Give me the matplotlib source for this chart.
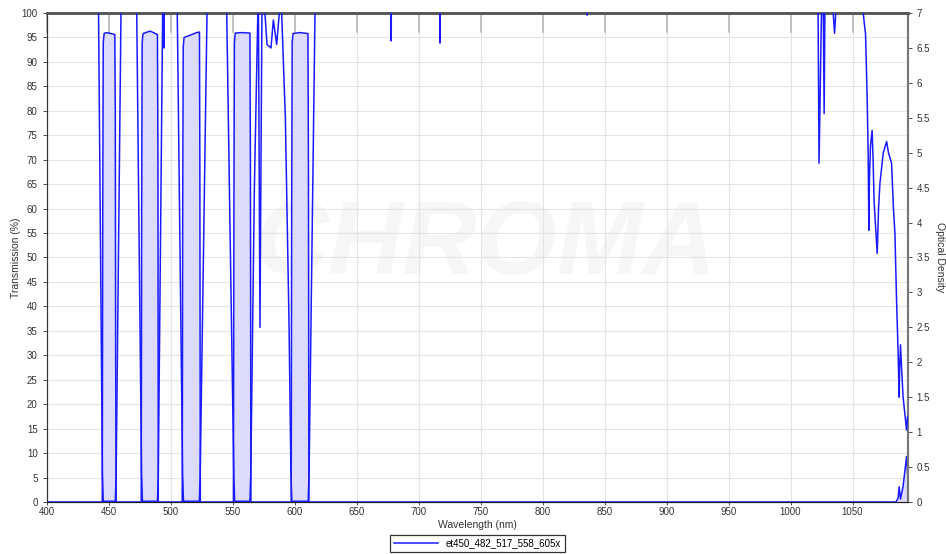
import numpy as np
import matplotlib.pyplot as plt

plt.rcParams['font.family'] = ['Liberation Sans', 'DejaVu Sans']

# 透过率曲线 (波长 nm, 透过率 %)
t_wl = [400, 444.8, 445.2, 445.6, 446.3, 448, 452, 454.9, 455.3, 455.6, 456.0,
        476.2, 476.6, 477.0, 477.7, 481, 483.4, 486, 489.3, 489.7, 490.0,
        509.3, 509.7, 510.1, 510.8, 516, 521, 523.2, 523.5, 523.9,
        550.6, 551.0, 551.4, 552.1, 558, 563.9, 564.3, 564.7,
        597.2, 597.6, 598.0, 598.7, 604, 610.7, 611.1, 611.5,
        1085.0, 1086.8, 1087.6, 1088.7, 1090.8, 1093.6, 1094.4]
t_val = [0, 0, 60, 94, 95.8, 96, 95.8, 95.6, 80, 30, 0,
         0, 60, 94, 95.8, 96.1, 96.3, 96.0, 95.6, 70, 0,
         0, 60, 93, 95.0, 95.5, 96.0, 96.1, 70, 0,
         0, 60, 94, 95.9, 96.0, 95.9, 70, 0,
         0, 60, 94, 95.8, 96.0, 95.8, 70, 0,
         0, 0.8, 3.1, 0.6, 3.2, 9.3, 6.0]

# 光密度曲线 (波长 nm, OD)，超过7的部分被坐标轴截掉
od_wl = [400, 441.5, 441.8, 444.9, 445.6, 455.3, 456.0, 459.9, 460.2,
         472.3, 472.6, 476.5, 477.2, 489.3, 490.0, 493.5, 493.9, 494.6, 495.0,
         505.0, 505.3, 509.6, 510.3, 523.1, 523.8, 529.3, 529.6,
         544.9, 545.2, 550.9, 551.6, 563.9, 564.6, 567.5, 570.4, 570.7, 572.0, 573.6, 573.9,
         575.8, 576.0, 577.7, 580.9, 582.8, 585.5, 587.6, 587.9,
         589.2, 589.5, 592.5, 595.5, 597.0, 597.7, 610.9, 611.6, 616.4, 616.7,
         677.7, 677.9, 678.1, 717.0, 717.2, 717.4, 835.8, 836.0, 836.2,
         1022.0, 1023.0, 1024.8, 1025.6, 1026.3, 1027.1, 1027.9,
         1034.0, 1034.4, 1035.5, 1036.5, 1036.8,
         1058.3, 1058.6, 1060.5, 1061.8, 1062.6, 1063.2, 1063.6, 1064.5, 1065.8,
         1066.6, 1067.4, 1069.9, 1071.0, 1072.1, 1074.8, 1077.5, 1079.0, 1081.5,
         1083.0, 1084.2, 1085.5, 1086.8, 1087.6, 1088.0, 1088.7, 1089.5, 1090.8,
         1093.6, 1094.4]
od_val = [8, 8, 7, 0.4, 0.01, 0.01, 0.4, 7, 8,
          8, 7, 0.4, 0.01, 0.01, 0.4, 7, 7.4, 6.5, 7.6,
          8, 7, 0.4, 0.01, 0.01, 0.4, 7, 8,
          8, 7, 0.4, 0.01, 0.01, 0.4, 4.5, 7.1, 7.3, 2.5, 7, 8,
          8, 7, 6.55, 6.5, 6.9, 6.55, 7, 8,
          8, 7, 5.5, 2.5, 0.4, 0.01, 0.01, 0.4, 7, 8,
          8, 6.6, 8, 8, 6.57, 8, 8, 6.97, 8,
          7.6, 4.85, 6.85, 7.4, 7.4, 5.56, 7.5,
          7.5, 7.0, 6.71, 7.0, 7.5,
          7.5, 7.0, 6.7, 5.8, 5.0, 3.89, 4.6, 5.1, 5.32,
          4.9, 4.3, 3.56, 4.2, 4.56, 5.0, 5.16, 5.0, 4.85,
          4.2, 3.85, 2.9, 2.13, 1.5, 1.9, 2.25, 1.95, 1.5,
          1.03, 1.22]

x_ticks = list(range(400, 1051, 50))
t_ticks = list(range(0, 101, 5))
od_ticks = [i * 0.5 for i in range(15)]

line_color = '#1a1aff'
fill_color = '#dcdcfa'
grid_color = '#e4e4e4'

fig = plt.figure(figsize=(9.46, 5.54), dpi=100)
ax = fig.add_axes([0.0494, 0.0939, 0.9101, 0.8826])

# 水印
ax.text(0.51, 0.52, 'CHROMA', transform=ax.transAxes, fontsize=74,
        fontweight='bold', fontstyle='italic', color='#f6f6f6',
        ha='center', va='center', zorder=0)

ax.fill_between(t_wl, t_val, 0, color=fill_color, linewidth=0, zorder=1)
line_t, = ax.plot(t_wl, t_val, color=line_color, linewidth=1.1, zorder=3,
                  label='et450_482_517_558_605x')

ax.set_xlim(400, 1094.5)
ax.set_ylim(0, 100)
ax.set_xticks(x_ticks)
ax.set_yticks(t_ticks)
ax.grid(True, color=grid_color, linewidth=0.8)
ax.set_axisbelow(True)
ax.tick_params(axis='both', labelsize=7, colors='#333333', length=3, width=0.6)
ax.tick_params(axis='x', length=2, pad=1.5)
ax.set_xlabel('Wavelength (nm)', fontsize=7.5, color='#333333')
ax.xaxis.set_label_coords(0.5, -0.036)
ax.set_ylabel('Transmission (%)', fontsize=7.5, color='#333333')
ax.yaxis.set_label_coords(-0.030, 0.5)

# 顶部的灰色刻度线
for xv in x_ticks:
    ax.plot([xv, xv], [100, 96.2], color='#b8b8b8', linewidth=1.2,
            zorder=2, clip_on=False)

ax2 = ax.twinx()
ax2.plot(od_wl, od_val, color=line_color, linewidth=1.1, zorder=3)
ax2.set_ylim(0, 7)
ax2.set_yticks(od_ticks)
ax2.set_yticklabels(['%g' % v for v in od_ticks])
ax2.tick_params(axis='y', labelsize=7, colors='#333333', length=3, width=0.6)
ax2.set_ylabel('Optical Density', fontsize=7.5, color='#333333', rotation=270)
ax2.yaxis.set_label_coords(1.043, 0.5)

for a in (ax, ax2):
    a.spines['top'].set_color('#555555')
    a.spines['top'].set_linewidth(1.8)
    a.spines['left'].set_color('#333333')
    a.spines['right'].set_color('#777777')
    a.spines['right'].set_linewidth(1.5)
    a.spines['bottom'].set_color('#222222')

leg = fig.legend(handles=[line_t], loc='lower center',
                 bbox_to_anchor=(0.505, -0.006), fontsize=7, frameon=True,
                 fancybox=False, edgecolor='black', handlelength=4.5,
                 borderpad=0.4)
leg.get_frame().set_linewidth(0.9)

fig.savefig('out.png', dpi=100)
